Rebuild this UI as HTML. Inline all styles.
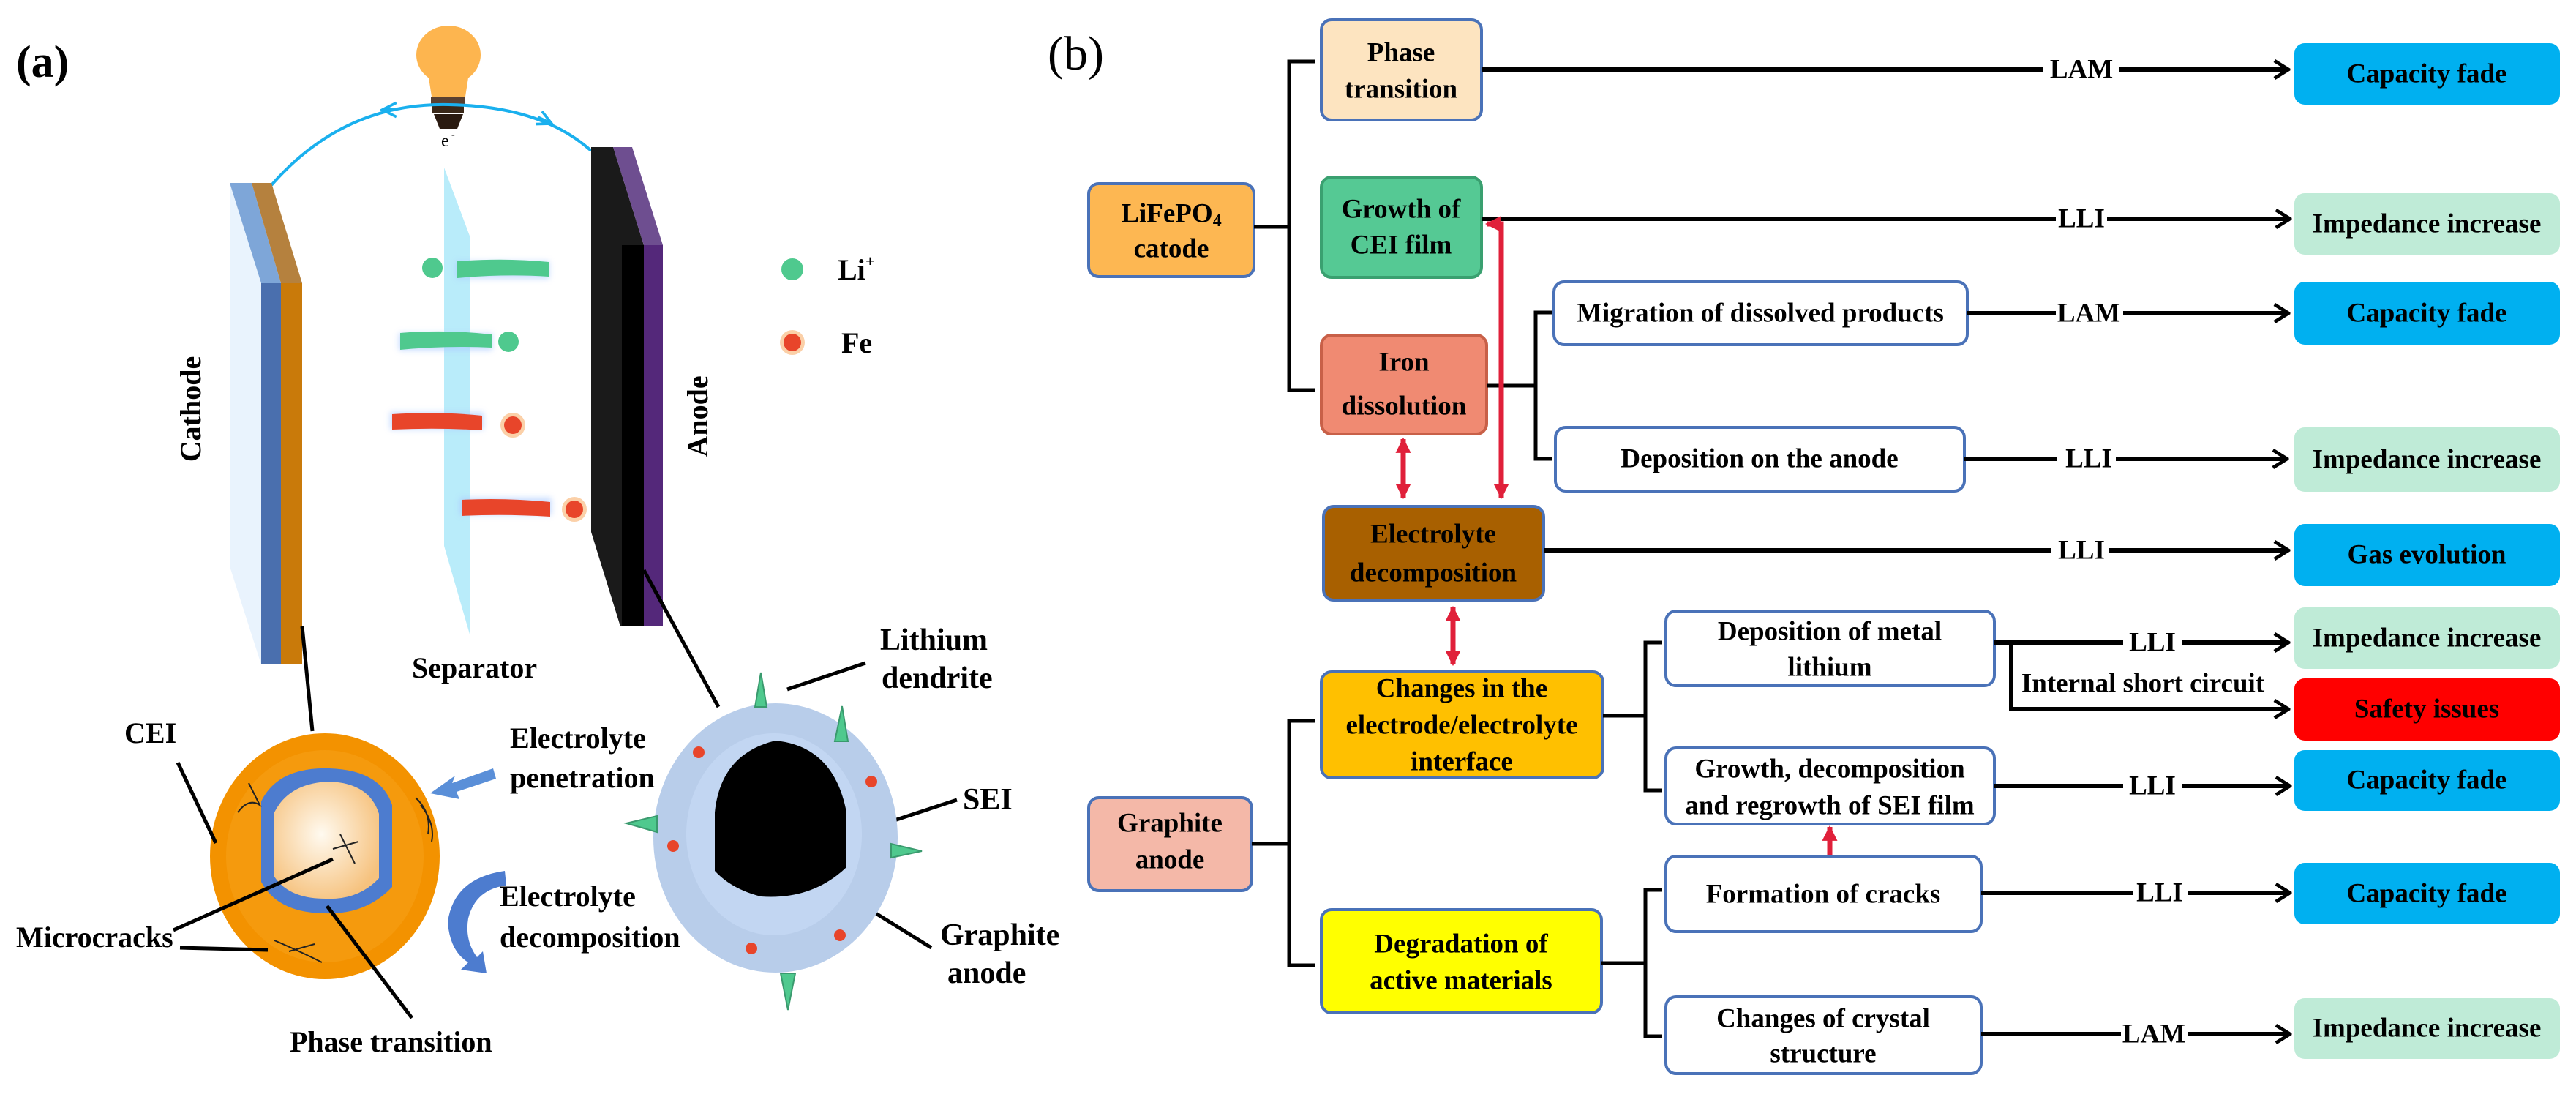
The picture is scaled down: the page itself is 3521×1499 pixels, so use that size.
<!DOCTYPE html>
<html><head><meta charset="utf-8"><style>
html,body{margin:0;padding:0;background:#fff;}
svg{display:block;}
text{font-family:"Liberation Serif",serif;font-weight:bold;fill:#000;}
.b text{font-size:37px;}
</style></head><body>
<svg width="3521" height="1499" viewBox="0 0 3521 1499" xmlns="http://www.w3.org/2000/svg">
<defs>
<marker id="ah" viewBox="0 0 10 10" refX="9" refY="5" markerWidth="4" markerHeight="5" orient="auto" markerUnits="strokeWidth">
<path d="M1,0 L9,5 L1,10" fill="none" stroke="#000" stroke-width="2"/></marker>
<marker id="rh" viewBox="0 0 10 10" refX="9" refY="5" markerWidth="3" markerHeight="3" orient="auto-start-reverse" markerUnits="strokeWidth">
<path d="M0,0 L10,5 L0,10 z" fill="#e0203a"/></marker>
<marker id="bh" viewBox="0 0 10 10" refX="8" refY="5" markerWidth="6" markerHeight="6" orient="auto" markerUnits="strokeWidth">
<path d="M1,1 L9,5 L1,9" fill="none" stroke="#1ab0ee" stroke-width="1.5"/></marker>
<radialGradient id="cream" cx="0.45" cy="0.45" r="0.6"><stop offset="0" stop-color="#fffaf0"/><stop offset="1" stop-color="#f6c27e"/></radialGradient>
<filter id="glow"><feGaussianBlur stdDeviation="4"/></filter>
</defs>

<!-- ============ PANEL A ============ -->
<text x="22" y="105" style="font-size:62px">(a)</text>
<ellipse cx="613" cy="75" rx="44" ry="40" fill="#fdb54f"/>
<path d="M585,100 L641,100 L636,132 L590,132 z" fill="#fdb54f"/>
<rect x="589" y="132" width="47" height="10" fill="#5a4030"/>
<rect x="591" y="144" width="43" height="10" fill="#3a2818"/>
<path d="M593,156 L633,156 L625,176 L601,176 z" fill="#2a1a10"/>
<text x="603" y="200" style="font-size:24px;font-weight:normal">e</text><text x="617" y="188" style="font-size:14px">-</text>
<path d="M371,253 Q470,140 613,143 Q740,145 808,206" fill="none" stroke="#1ab0ee" stroke-width="4"/>
<path d="M540,150 L525,150" stroke="#1ab0ee" stroke-width="4" marker-end="url(#bh)"/>
<path d="M735,160 L752,168" stroke="#1ab0ee" stroke-width="4" marker-end="url(#bh)"/>
<polygon points="314,250 357,387 357,908 314,774" fill="#e9f3fd"/>
<polygon points="314,250 344,250 384,387 357,387" fill="#7ea6d8"/>
<rect x="357" y="387" width="27" height="521" fill="#4a6fae"/>
<polygon points="344,250 371,250 413,387 384,387" fill="#b5813e"/>
<rect x="384" y="387" width="29" height="521" fill="#c97a0a"/>
<text transform="translate(274,559) rotate(-90)" style="font-size:40px" text-anchor="middle">Cathode</text>
<polygon points="607,229 643,325 643,870 607,746" fill="#b9ecfa"/>
<polygon points="808,201 838,201 880,335 880,856 848,856 808,727" fill="#1a1a1a"/>
<polygon points="838,201 864,201 906,335 880,335" fill="#6e4e90"/>
<rect x="880" y="335" width="26" height="521" fill="#54287a"/>
<rect x="850" y="335" width="30" height="521" fill="#000"/>
<text transform="translate(967,569) rotate(-90)" style="font-size:40px" text-anchor="middle">Anode</text>
<g filter="url(#glow)" opacity="0.6">
<rect x="623" y="357" width="128" height="24" fill="#a8c8ff"/><rect x="545" y="455" width="128" height="24" fill="#a8c8ff"/>
<rect x="533" y="563" width="128" height="24" fill="#a8c8ff"/><rect x="628" y="680" width="126" height="24" fill="#a8c8ff"/>
</g>
<path d="M625,357 Q690,352 750,358 L750,378 Q690,374 625,380 z" fill="#4fc98e"/>
<path d="M547,455 Q610,450 672,457 L672,475 Q610,472 547,478 z" fill="#4fc98e"/>
<path d="M536,566 Q600,562 659,568 L659,588 Q600,584 536,587 z" fill="#e8452a"/>
<path d="M631,683 Q690,680 752,686 L752,706 Q690,702 631,705 z" fill="#e8452a"/>
<circle cx="591" cy="366" r="14" fill="#4fc98e"/>
<circle cx="695" cy="467" r="14" fill="#4fc98e"/>
<circle cx="701" cy="581" r="17" fill="#fbd0a8"/><circle cx="701" cy="581" r="12" fill="#e8452a"/>
<circle cx="785" cy="696" r="17" fill="#fbd0a8"/><circle cx="785" cy="696" r="12" fill="#e8452a"/>
<circle cx="1083" cy="368" r="15" fill="#4fc98e"/>
<text x="1145" y="382" style="font-size:40px">Li</text><text x="1183" y="364" style="font-size:22px">+</text>
<circle cx="1083" cy="468" r="17" fill="#fbd0a8"/><circle cx="1083" cy="468" r="12" fill="#e8452a"/>
<text x="1150" y="482" style="font-size:40px">Fe</text>
<text x="563" y="926" style="font-size:40px">Separator</text>
<ellipse cx="444" cy="1170" rx="157" ry="168" fill="#f39200"/>
<ellipse cx="444" cy="1170" rx="135" ry="145" fill="#f7a21a" opacity="0.5"/>
<path d="M357,1095 Q380,1048 450,1050 Q520,1052 536,1100 L536,1212 Q500,1250 445,1248 Q380,1248 357,1205 z" fill="#4d7ccf"/>
<path d="M375,1110 Q395,1070 450,1068 Q505,1070 518,1112 L518,1200 Q490,1230 445,1228 Q395,1228 375,1198 z" fill="url(#cream)"/>
<g stroke="#222" stroke-width="2" fill="none">
<path d="M325,1110 Q340,1090 355,1100 Q345,1080 340,1070"/><path d="M568,1090 Q590,1110 585,1140 M575,1100 Q595,1125 590,1150"/>
<path d="M375,1285 Q410,1300 440,1315 M395,1300 L430,1290"/><path d="M465,1140 L485,1180 M455,1160 L490,1150"/>
</g>
<text x="170" y="1015" style="font-size:40px">CEI</text>
<text x="22" y="1294" style="font-size:40px">Microcracks</text>
<text x="396" y="1437" style="font-size:40px">Phase transition</text>
<text x="697" y="1022" style="font-size:40px">Electrolyte</text>
<text x="697" y="1076" style="font-size:40px">penetration</text>
<text x="683" y="1238" style="font-size:40px">Electrolyte</text>
<text x="683" y="1294" style="font-size:40px">decomposition</text>
<path d="M674,1050 L618,1070 L622,1060 L588,1084 L628,1092 L624,1082 L678,1064 z" fill="#5a8fd8"/>
<path d="M690,1190 Q620,1200 612,1260 Q615,1300 640,1315 L630,1325 L665,1330 L660,1300 L652,1308 Q635,1285 640,1255 Q650,1215 692,1210 z" fill="#4d7ccf"/>
<g stroke="#000" stroke-width="5">
<line x1="413" y1="856" x2="427" y2="999"/><line x1="243" y1="1042" x2="295" y2="1152"/>
<line x1="237" y1="1271" x2="455" y2="1174"/><line x1="246" y1="1295" x2="366" y2="1298"/>
<line x1="447" y1="1238" x2="563" y2="1391"/><line x1="880" y1="779" x2="982" y2="966"/>
<line x1="1076" y1="942" x2="1183" y2="906"/><line x1="1201" y1="1128" x2="1308" y2="1093"/>
<line x1="1134" y1="1209" x2="1273" y2="1295"/>
</g>
<ellipse cx="1060" cy="1145" rx="167" ry="184" fill="#b8cdea"/>
<ellipse cx="1058" cy="1140" rx="120" ry="138" fill="#c2d6f2"/>
<path d="M977,1190 L977,1110 Q985,1030 1060,1012 Q1140,1020 1157,1110 L1157,1185 Q1110,1230 1040,1225 Q1000,1215 977,1190 z" fill="#000"/>
<g fill="#e8452a"><circle cx="955" cy="1028" r="8"/><circle cx="1191" cy="1068" r="8"/><circle cx="920" cy="1156" r="8"/><circle cx="1148" cy="1278" r="8"/><circle cx="1027" cy="1296" r="8"/></g>
<g fill="#4fc98e" stroke="#3a9a6e" stroke-width="2">
<polygon points="1040,919 1032,966 1048,966"/><polygon points="1151,965 1141,1013 1159,1013"/>
<polygon points="856,1125 898,1115 898,1137"/><polygon points="1260,1163 1218,1153 1218,1172"/>
<polygon points="1077,1380 1067,1330 1087,1330"/>
</g>
<text x="1203" y="888" style="font-size:42px">Lithium</text>
<text x="1205" y="940" style="font-size:42px">dendrite</text>
<text x="1316" y="1106" style="font-size:42px">SEI</text>
<text x="1285" y="1291" style="font-size:42px">Graphite</text>
<text x="1295" y="1343" style="font-size:42px">anode</text>

<!-- ============ PANEL B ============ -->
<g class="b">
<text x="1432" y="95" style="font-size:66px;font-weight:normal">(b)</text>
<g stroke="#4a72b8" stroke-width="4">
<rect x="1488" y="251" width="226" height="127" rx="14" fill="#fdb752"/>
<rect x="1806" y="27" width="219" height="137" rx="14" fill="#fde4c0"/>
<rect x="1806" y="242" width="219" height="137" rx="14" fill="#55c994" stroke="#3aa070"/>
<rect x="1806" y="458" width="226" height="135" rx="14" fill="#f08a72" stroke="#c86048"/>
<rect x="2124" y="385" width="565" height="86" rx="14" fill="#fff"/>
<rect x="2126" y="584" width="559" height="87" rx="14" fill="#fff"/>
<rect x="1809" y="692" width="301" height="128" rx="14" fill="#a86000"/>
<rect x="1806" y="918" width="385" height="145" rx="14" fill="#ffc000"/>
<rect x="1488" y="1090" width="223" height="127" rx="14" fill="#f4b8a8"/>
<rect x="1806" y="1243" width="383" height="141" rx="14" fill="#ffff00"/>
<rect x="2277" y="835" width="449" height="102" rx="14" fill="#fff"/>
<rect x="2277" y="1022" width="449" height="104" rx="14" fill="#fff"/>
<rect x="2277" y="1170" width="431" height="103" rx="14" fill="#fff"/>
<rect x="2277" y="1362" width="431" height="105" rx="14" fill="#fff"/>
</g>
<g>
<rect x="3136" y="59" width="363" height="84" rx="14" fill="#00b0f0"/>
<rect x="3136" y="264" width="363" height="84" rx="14" fill="#bfebd7"/>
<rect x="3136" y="385" width="363" height="86" rx="14" fill="#00b0f0"/>
<rect x="3136" y="584" width="363" height="88" rx="14" fill="#bfebd7"/>
<rect x="3136" y="716" width="363" height="85" rx="14" fill="#00b0f0"/>
<rect x="3136" y="830" width="363" height="84" rx="14" fill="#bfebd7"/>
<rect x="3136" y="927" width="363" height="85" rx="14" fill="#ff0000"/>
<rect x="3136" y="1025" width="363" height="83" rx="14" fill="#00b0f0"/>
<rect x="3136" y="1179" width="363" height="84" rx="14" fill="#00b0f0"/>
<rect x="3136" y="1364" width="363" height="83" rx="14" fill="#bfebd7"/>
</g>
<g text-anchor="middle" dominant-baseline="central">
<text x="1601" y="292">LiFePO<tspan style="font-size:24px" dy="10">4</tspan></text>
<text x="1601" y="340">catode</text>
<text x="1915" y="72">Phase</text><text x="1915" y="122">transition</text>
<text x="1915" y="286">Growth of</text><text x="1915" y="335">CEI film</text>
<text x="1919" y="495">Iron</text><text x="1919" y="555">dissolution</text>
<text x="2406" y="428">Migration of dissolved products</text>
<text x="2405" y="627">Deposition on the anode</text>
<text x="1959" y="730">Electrolyte</text><text x="1959" y="783">decomposition</text>
<text x="1998" y="941">Changes in the</text><text x="1998" y="991">electrode/electrolyte</text><text x="1998" y="1041">interface</text>
<text x="1599" y="1125">Graphite</text><text x="1599" y="1175">anode</text>
<text x="1997" y="1290">Degradation of</text><text x="1997" y="1340">active materials</text>
<text x="2501" y="863">Deposition of  metal</text><text x="2501" y="912">lithium</text>
<text x="2501" y="1051">Growth, decomposition</text><text x="2501" y="1101">and regrowth of SEI film</text>
<text x="2492" y="1222">Formation of cracks</text>
<text x="2492" y="1392">Changes of crystal</text><text x="2492" y="1440">structure</text>
<text x="3317" y="101">Capacity fade</text>
<text x="3317" y="306">Impedance increase</text>
<text x="3317" y="428">Capacity fade</text>
<text x="3317" y="628">Impedance increase</text>
<text x="3317" y="758">Gas evolution</text>
<text x="3317" y="872">Impedance increase</text>
<text x="3317" y="969">Safety issues</text>
<text x="3317" y="1066">Capacity fade</text>
<text x="3317" y="1221">Capacity fade</text>
<text x="3317" y="1405">Impedance increase</text>
<text x="2845" y="95">LAM</text>
<text x="2845" y="299">LLI</text>
<text x="2855" y="428">LAM</text>
<text x="2855" y="627">LLI</text>
<text x="2845" y="752">LLI</text>
<text x="2942" y="878">LLI</text>
<text x="2929" y="934">Internal short circuit</text>
<text x="2942" y="1074">LLI</text>
<text x="2952" y="1220">LLI</text>
<text x="2944" y="1413">LAM</text>
</g>
<g stroke="#000" stroke-width="6" fill="none">
<line x1="2025" y1="95" x2="2793" y2="95"/><line x1="2897" y1="95" x2="3128" y2="95" marker-end="url(#ah)"/>
<line x1="2025" y1="299" x2="2810" y2="299"/><line x1="2880" y1="299" x2="3130" y2="299" marker-end="url(#ah)"/>
<line x1="2689" y1="428" x2="2810" y2="428"/><line x1="2902" y1="428" x2="3128" y2="428" marker-end="url(#ah)"/>
<line x1="2685" y1="627" x2="2812" y2="627"/><line x1="2892" y1="627" x2="3126" y2="627" marker-end="url(#ah)"/>
<line x1="2110" y1="752" x2="2803" y2="752"/><line x1="2883" y1="752" x2="3128" y2="752" marker-end="url(#ah)"/>
<line x1="2726" y1="878" x2="2902" y2="878"/><line x1="2983" y1="878" x2="3128" y2="878" marker-end="url(#ah)"/>
<polyline points="2749,878 2749,969 3128,969" marker-end="url(#ah)"/>
<line x1="2726" y1="1074" x2="2902" y2="1074"/><line x1="2983" y1="1074" x2="3130" y2="1074" marker-end="url(#ah)"/>
<line x1="2708" y1="1220" x2="2915" y2="1220"/><line x1="2990" y1="1220" x2="3130" y2="1220" marker-end="url(#ah)"/>
<line x1="2708" y1="1413" x2="2899" y2="1413"/><line x1="2990" y1="1413" x2="3130" y2="1413" marker-end="url(#ah)"/>
</g>
<g stroke="#000" stroke-width="5" fill="none">
<polyline points="1797,84 1762,84 1762,533 1797,533"/><line x1="1714" y1="310" x2="1762" y2="310"/>
<polyline points="2122,427 2099,427 2099,627 2122,627"/><line x1="2032" y1="527" x2="2099" y2="527"/>
<polyline points="1797,985 1762,985 1762,1319 1797,1319"/><line x1="1711" y1="1153" x2="1762" y2="1153"/>
<polyline points="2272,878 2249,878 2249,1080 2272,1080"/><line x1="2191" y1="978" x2="2249" y2="978"/>
<polyline points="2272,1216 2249,1216 2249,1416 2272,1416"/><line x1="2189" y1="1316" x2="2249" y2="1316"/>
</g>
<g stroke="#e0203a" stroke-width="7" fill="none">
<polyline points="2032,306 2052,306 2052,680" marker-start="url(#rh)" marker-end="url(#rh)"/>
<line x1="1918" y1="600" x2="1918" y2="680" marker-start="url(#rh)" marker-end="url(#rh)"/>
<line x1="1986" y1="830" x2="1986" y2="908" marker-start="url(#rh)" marker-end="url(#rh)"/>
<line x1="2501" y1="1168" x2="2501" y2="1130" marker-end="url(#rh)"/>
</g>
</g>
</svg>
</body></html>
